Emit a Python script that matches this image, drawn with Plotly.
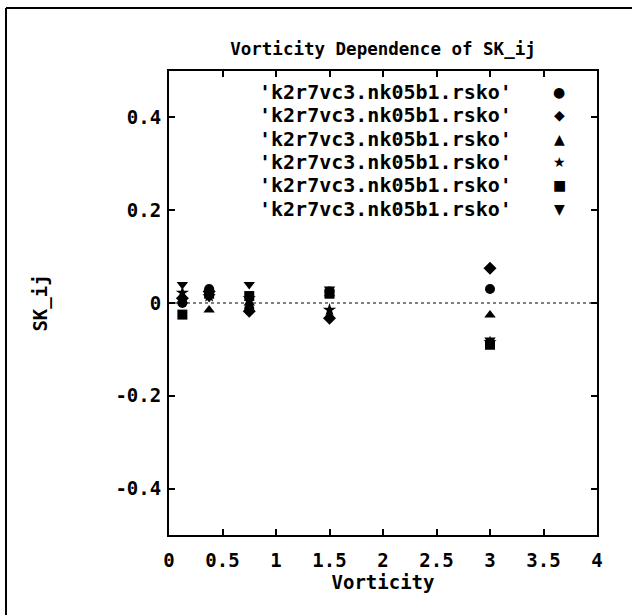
import plotly.graph_objects as go

# ---- data ----
vorticity = [0.125, 0.375, 0.75, 1.5, 3.0]
series_names = ["'k2r7vc3.nk05b1.rsko'"] * 6
circle_vals = [0.0, 0.03, -0.012, 0.025, 0.03]
diamond_vals = [0.01, 0.025, -0.018, -0.033, 0.075]
triup_vals = [0.005, -0.015, 0.0, 0.02, -0.026]
star_vals = [0.022, 0.015, 0.01, -0.015, -0.085]
square_vals = [-0.025, 0.02, 0.015, 0.02, -0.09]
tridown_vals = [0.04, 0.012, 0.04, 0.03, -0.08]
series_vals = [circle_vals, diamond_vals, triup_vals, star_vals, square_vals, tridown_vals]
symbols = ["circle", "diamond", "triangle-up", "star", "square", "triangle-down"]
glyphs = ["●", "◆", "▲", "★", "■", "▼"]
x_ticks = [0, 0.5, 1, 1.5, 2, 2.5, 3, 3.5, 4]
x_tick_text = ["0", "0.5", "1", "1.5", "2", "2.5", "3", "3.5", "4"]
y_ticks = [-0.4, -0.2, 0, 0.2, 0.4]
y_tick_text = ["-0.4", "-0.2", "0", "0.2", "0.4"]

W, H = 632, 615
ML, MR, MT, MB = 169, 35, 71, 80
FONT = "DejaVu Sans Mono"
FS = 19

fig = go.Figure()
for name, vals, sym in zip(series_names, series_vals, symbols):
    fig.add_trace(go.Scatter(
        x=vorticity, y=vals, mode="markers", name=name,
        marker=dict(symbol=sym, size=10, color="black", line=dict(width=0)),
        showlegend=False,
    ))

axis_common = dict(
    showline=True, linewidth=2, linecolor="black", mirror="ticks",
    ticks="inside", ticklen=6, tickwidth=1.5, tickcolor="black",
    showgrid=False, zeroline=False,
    tickfont=dict(family=FONT, size=FS, color="black", weight="bold"),
)

fig.update_layout(
    width=W, height=H,
    margin=dict(l=ML, r=MR, t=MT, b=MB, autoexpand=False),
    paper_bgcolor="white", plot_bgcolor="white",
    title=dict(text="Vorticity Dependence of SK_ij", x=0.5, xref="paper",
               y=1 - 49 / H, yanchor="middle",
               font=dict(family=FONT, size=17.5, color="black", weight="bold")),
    xaxis=dict(range=[0, 4], tickvals=x_ticks, ticktext=x_tick_text,
               title=dict(text="Vorticity", standoff=0,
                          font=dict(family=FONT, size=FS, color="black", weight="bold")),
               ticklabelstandoff=7, **axis_common),
    yaxis=dict(range=[-0.5, 0.5], tickvals=y_ticks, ticktext=y_tick_text,
               title=dict(text="SK_ij", standoff=63,
                          font=dict(family=FONT, size=FS, color="black", weight="bold")),
               ticklabelstandoff=2, **axis_common),
)

# zero reference line (dotted)
fig.add_shape(type="line", xref="paper", yref="y", x0=0, x1=1, y0=0, y1=0,
              line=dict(color="black", width=1, dash="dot"))

# outer frame (left and top edges of the page border)
pw = W - ML - MR
ph = H - MT - MB
fx0 = (6 - ML) / pw
fx1 = (W - ML) / pw
fy_top = 1 + (MT - 8) / ph
fy_bot = 1 - (H - MT) / ph
fig.add_shape(type="line", xref="paper", yref="paper", x0=fx0, x1=fx0, y0=fy_bot, y1=fy_top,
              line=dict(color="black", width=2))
fig.add_shape(type="line", xref="paper", yref="paper", x0=fx0, x1=fx1, y0=fy_top, y1=fy_top,
              line=dict(color="black", width=2))

# legend: text then symbol on the right
for i, (name, g) in enumerate(zip(series_names, glyphs)):
    yp = 1 - (21 + 23.3 * i) / ph
    fig.add_annotation(xref="paper", yref="paper", x=0.806, y=yp, xanchor="right", yanchor="middle",
                       text=name, showarrow=False,
                       font=dict(family=FONT, size=20, color="black", weight="bold"))
    fig.add_annotation(xref="paper", yref="paper", x=0.912, y=yp, xanchor="center", yanchor="middle",
                       text=g, showarrow=False,
                       font=dict(family="DejaVu Sans", size=14, color="black"))

fig.write_html("out.html")
